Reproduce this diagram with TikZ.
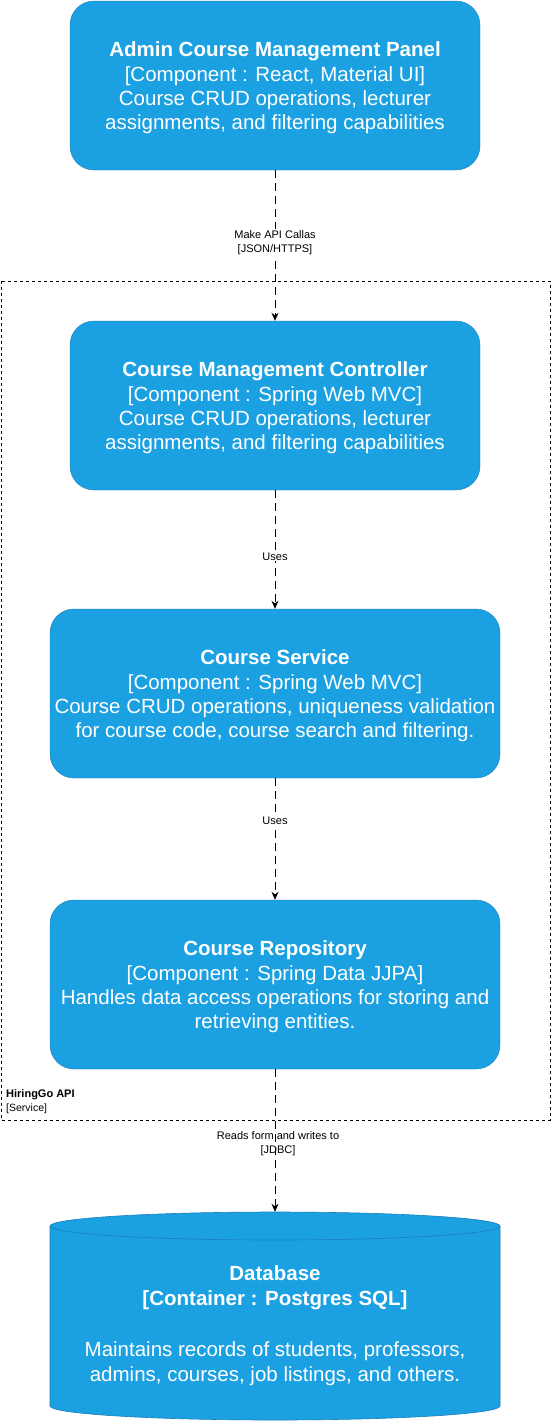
\documentclass[tikz,border=0pt]{standalone}
\usepackage{fontspec}
\setmainfont{Liberation Sans}
\usetikzlibrary{arrows.meta}
\definecolor{boxfill}{HTML}{1BA1E2}
\definecolor{boxline}{HTML}{1A7DBA}
\tikzset{
  compbox/.style={draw=boxline, fill=boxfill, rounded corners=24pt, inner sep=0pt},
  comptext/.style={text=white, align=center, inner sep=0pt, yshift=-2.5pt,
    font=\fontsize{20.5}{24.4}\selectfont},
  conn/.style={draw=black, line width=0.9pt, dash pattern=on 8pt off 5pt,
    -{Stealth[length=8pt,width=7pt]}},
  lbl/.style={font=\fontsize{11}{14}\selectfont, align=center, inner sep=1pt, text=black},
  bound/.style={draw=black, line width=0.8pt, dash pattern=on 3pt off 3pt}
}
\begin{document}
\begin{tikzpicture}[x=1pt,y=-1pt]
\useasboundingbox (0,0) rectangle (552,1422);
% boundary
\draw[bound] (1,281) rectangle (550,1120);
\node[anchor=north west, align=left, inner sep=0pt, font=\fontsize{11}{14}\selectfont] (bnd) at (6,1089)
  {\textbf{HiringGo API}\\{\fontsize{10.5}{14}\selectfont{[Service]}}};
% components
\node[compbox, minimum width=410pt, minimum height=169pt] (admin) at (275,85.5) {};
\node[comptext] (admint) at (admin.center)
  {\textbf{Admin Course Management Panel}\\{[Component : React, Material UI]}\\Course CRUD operations, lecturer\\assignments, and filtering capabilities};
\node[compbox, minimum width=410pt, minimum height=169pt] (ctrl) at (275,405.5) {};
\node[comptext] (ctrlt) at (ctrl.center)
  {\textbf{Course Management Controller}\\{[Component : Spring Web MVC]}\\Course CRUD operations, lecturer\\assignments, and filtering capabilities};
\node[compbox, minimum width=450pt, minimum height=169pt] (svc) at (275,693.5) {};
\node[comptext] (svct) at (svc.center)
  {\textbf{Course Service}\\{[Component : Spring Web MVC]}\\Course CRUD operations, uniqueness validation\\for course code, course search and filtering.};
\node[compbox, minimum width=450pt, minimum height=169pt] (repo) at (275,984.5) {};
\node[comptext] (repot) at (repo.center)
  {\textbf{Course Repository}\\{[Component : Spring Data JJPA]}\\Handles data access operations for storing and\\retrieving entities.};
% database cylinder
\node[minimum width=450pt, minimum height=208pt, inner sep=0pt] (db) at (275,1316) {};
\draw[draw=boxline, fill=boxfill, line width=0.6pt]
  (50,1226) -- (50,1406) arc[start angle=180, end angle=0, x radius=225, y radius=14]
  -- (500,1226) arc[start angle=0, end angle=-180, x radius=225, y radius=14] -- cycle;
\draw[draw=boxline, line width=0.6pt] (50,1226) arc[start angle=180, end angle=0, x radius=225, y radius=14];
\node[text=white, align=center, font=\fontsize{20.5}{25}\selectfont] (dbtext) at (275,1325.5)
  {\textbf{Database}\\\textbf{[Container : Postgres SQL]}\\[26pt]Maintains records of students, professors,\\admins, courses, job listings, and others.};
% connectors
\draw[conn] (admin.south) -- (ctrl.north)
  node[lbl, fill=white, pos=0.48] {Make API Callas\\{[JSON/HTTPS]}};
\draw[conn] (ctrl.south) -- (svc.north)
  node[lbl, fill=white, pos=0.56] {Uses};
\draw[conn] (svc.south) -- (repo.north)
  node[lbl, fill=white, pos=0.35] {Uses};
\node[lbl] (rlbl) at (278,1144) {Reads form and writes to\\{[JDBC]}};
\draw[conn] (repo.south) -- (db.north);
\end{tikzpicture}
\end{document}
